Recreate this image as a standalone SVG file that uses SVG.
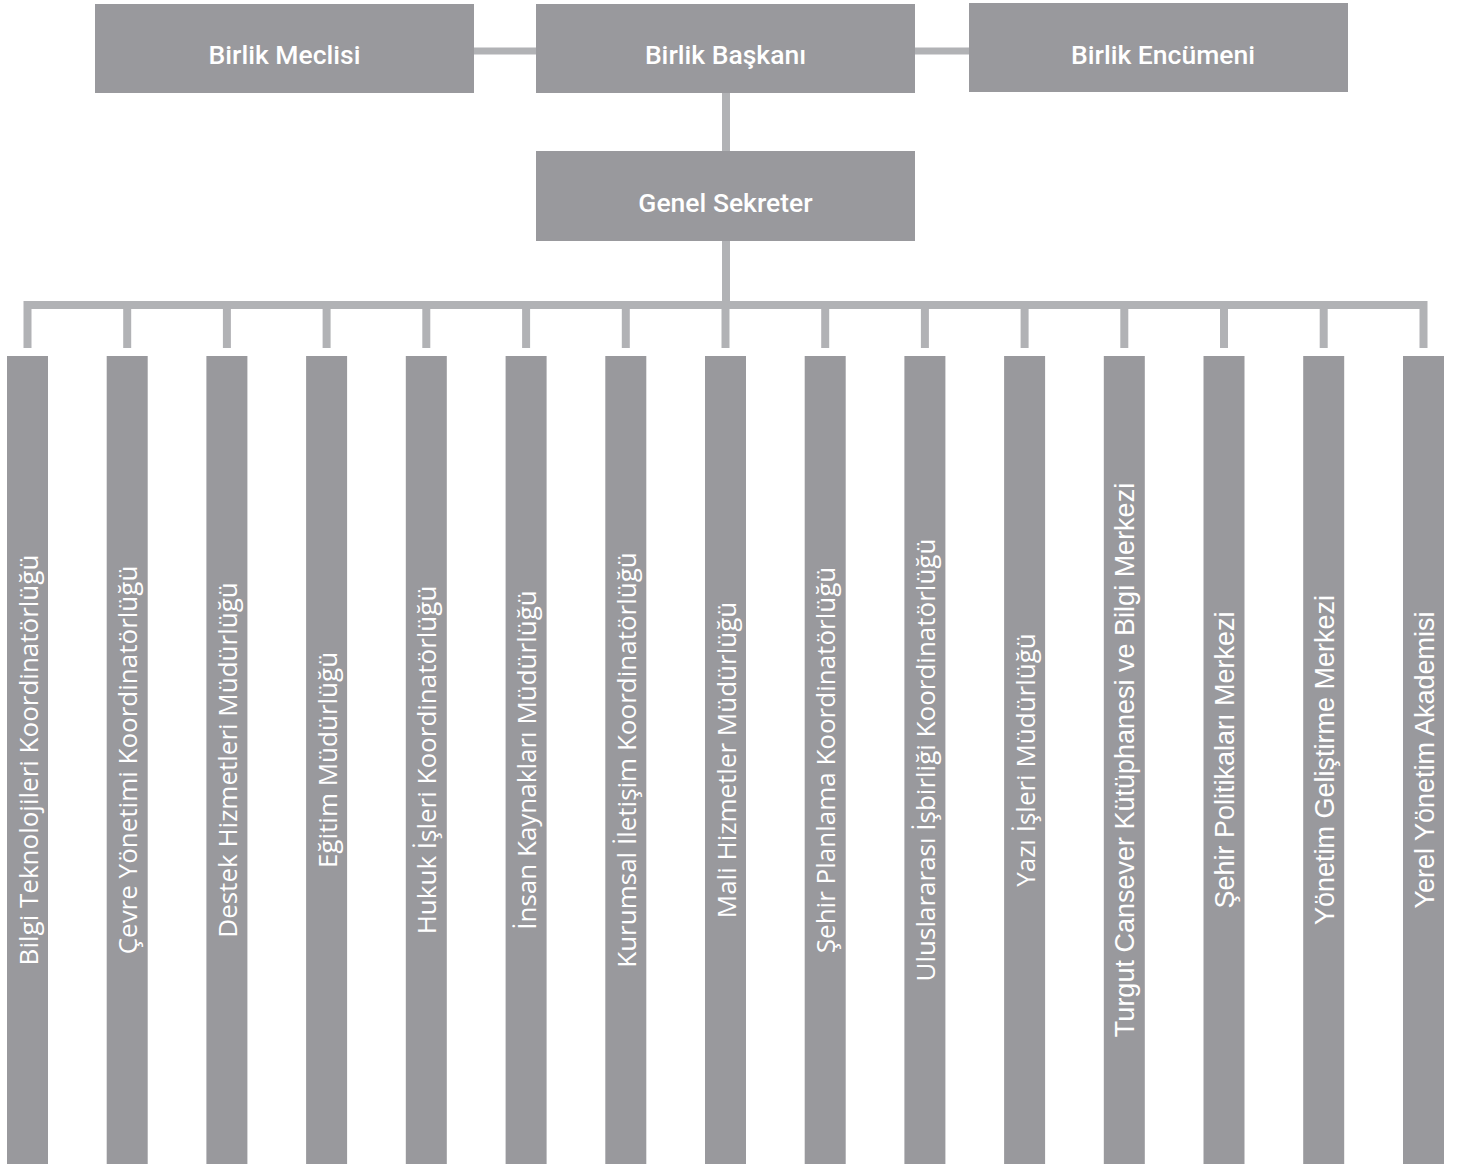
<svg xmlns="http://www.w3.org/2000/svg" width="1459" height="1164" viewBox="0 0 1459 1164">
<style>
.box{fill:#99999d}
.con{stroke:#b1b2b5;stroke-width:8;fill:none;stroke-linejoin:miter;stroke-linecap:butt}
.ht{font-family:Roboto,"Liberation Sans",sans-serif;font-weight:500;font-size:26.5px;fill:#ffffff;text-anchor:middle}
.vt{font-family:"Open Sans","Liberation Sans",sans-serif;font-size:26px;fill:#ffffff;text-anchor:middle}
.vh{font-family:"Liberation Sans",Arial,sans-serif;font-size:27px;fill:#ffffff;text-anchor:middle}
</style>
<rect width="1459" height="1164" fill="#ffffff"/>
<g id="connectors">
<line class="con" x1="474" y1="51" x2="536" y2="51" style="stroke-width:7"/>
<line class="con" x1="915" y1="51" x2="969" y2="51" style="stroke-width:7"/>
<line class="con" x1="726" y1="93" x2="726" y2="151"/>
<line class="con" x1="726" y1="240" x2="726" y2="305"/>
<path class="con" d="M27.5,348V305H1423.5V348"/>
<line class="con" x1="127.2" y1="305" x2="127.2" y2="348"/>
<line class="con" x1="226.9" y1="305" x2="226.9" y2="348"/>
<line class="con" x1="326.6" y1="305" x2="326.6" y2="348"/>
<line class="con" x1="426.3" y1="305" x2="426.3" y2="348"/>
<line class="con" x1="526.1" y1="305" x2="526.1" y2="348"/>
<line class="con" x1="625.8" y1="305" x2="625.8" y2="348"/>
<line class="con" x1="725.5" y1="305" x2="725.5" y2="348"/>
<line class="con" x1="825.2" y1="305" x2="825.2" y2="348"/>
<line class="con" x1="924.9" y1="305" x2="924.9" y2="348"/>
<line class="con" x1="1024.6" y1="305" x2="1024.6" y2="348"/>
<line class="con" x1="1124.3" y1="305" x2="1124.3" y2="348"/>
<line class="con" x1="1224" y1="305" x2="1224" y2="348"/>
<line class="con" x1="1323.7" y1="305" x2="1323.7" y2="348"/>
</g>
<g id="birlik-meclisi"><rect class="box" x="95" y="4" width="379" height="89"/><text class="ht" x="284.5" y="64">Birlik Meclisi</text></g>
<g id="birlik-baskani"><rect class="box" x="536" y="4" width="379" height="89"/><text class="ht" x="725.5" y="64">Birlik Başkanı</text></g>
<g id="birlik-encumeni"><rect class="box" x="969" y="3" width="379" height="89"/><text class="ht" x="1163" y="64">Birlik Encümeni</text></g>
<g id="genel-sekreter"><rect class="box" x="536" y="151" width="379" height="90"/><text class="ht" x="725.5" y="212">Genel Sekreter</text></g>
<g id="n1"><rect class="box" x="7" y="356" width="41" height="808"/><text class="vt" transform="translate(37.5,760) rotate(-90)">Bilgi Teknolojileri Koordinatörlüğü</text></g>
<g id="n2"><rect class="box" x="106.7" y="356" width="41" height="808"/><text class="vt" transform="translate(137.2,760) rotate(-90)">Çevre Yönetimi Koordinatörlüğü</text></g>
<g id="n3"><rect class="box" x="206.4" y="356" width="41" height="808"/><text class="vt" transform="translate(236.9,760) rotate(-90)">Destek Hizmetleri Müdürlüğü</text></g>
<g id="n4"><rect class="box" x="306.1" y="356" width="41" height="808"/><text class="vt" transform="translate(336.6,760) rotate(-90)">Eğitim Müdürlüğü</text></g>
<g id="n5"><rect class="box" x="405.8" y="356" width="41" height="808"/><text class="vt" transform="translate(436.3,760) rotate(-90)">Hukuk İşleri Koordinatörlüğü</text></g>
<g id="n6"><rect class="box" x="505.6" y="356" width="41" height="808"/><text class="vt" transform="translate(536.1,760) rotate(-90)">İnsan Kaynakları Müdürlüğü</text></g>
<g id="n7"><rect class="box" x="605.3" y="356" width="41" height="808"/><text class="vt" transform="translate(635.8,760) rotate(-90)">Kurumsal İletişim Koordinatörlüğü</text></g>
<g id="n8"><rect class="box" x="705" y="356" width="41" height="808"/><text class="vt" transform="translate(735.5,760) rotate(-90)">Mali Hizmetler Müdürlüğü</text></g>
<g id="n9"><rect class="box" x="804.7" y="356" width="41" height="808"/><text class="vt" transform="translate(835.2,760) rotate(-90)">Şehir Planlama Koordinatörlüğü</text></g>
<g id="n10"><rect class="box" x="904.4" y="356" width="41" height="808"/><text class="vt" transform="translate(934.9,760) rotate(-90)">Uluslararası İşbirliği Koordinatörlüğü</text></g>
<g id="n11"><rect class="box" x="1004.1" y="356" width="41" height="808"/><text class="vt" transform="translate(1034.6,760) rotate(-90)">Yazı İşleri Müdürlüğü</text></g>
<g id="n12"><rect class="box" x="1103.8" y="356" width="41" height="808"/><text class="vh" transform="translate(1134.3,760) rotate(-90)">Turgut Cansever Kütüphanesi ve Bilgi Merkezi</text></g>
<g id="n13"><rect class="box" x="1203.5" y="356" width="41" height="808"/><text class="vh" transform="translate(1234,760) rotate(-90)">Şehir Politikaları Merkezi</text></g>
<g id="n14"><rect class="box" x="1303.2" y="356" width="41" height="808"/><text class="vh" transform="translate(1333.7,760) rotate(-90)">Yönetim Geliştirme Merkezi</text></g>
<g id="n15"><rect class="box" x="1403" y="356" width="41" height="808"/><text class="vh" transform="translate(1433.5,760) rotate(-90)">Yerel Yönetim Akademisi</text></g>
</svg>
